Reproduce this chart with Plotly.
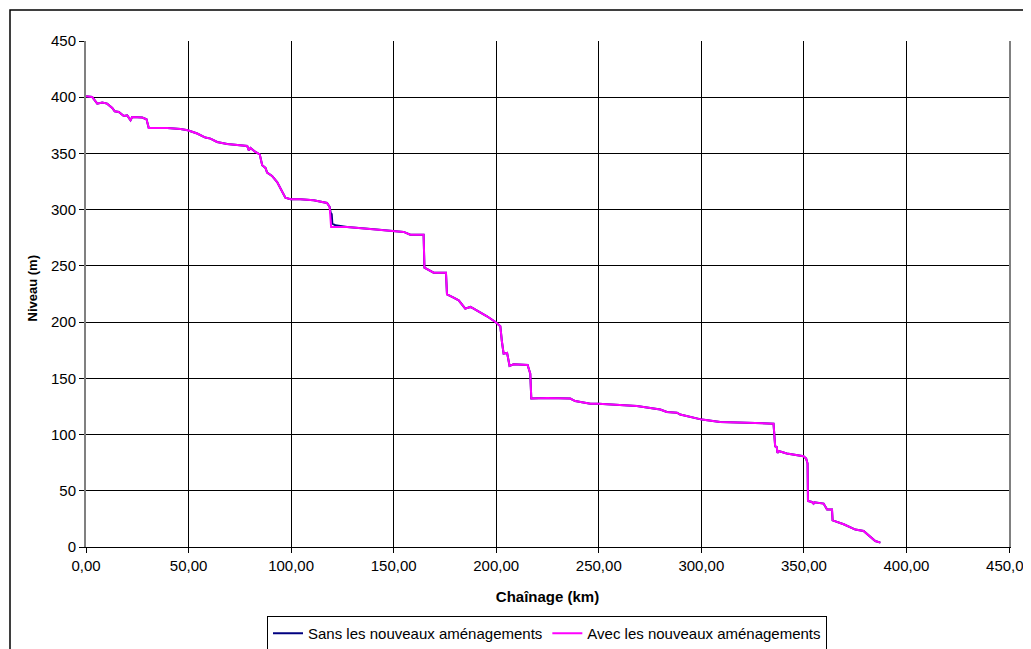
import plotly.graph_objects as go

# Chaînage (km) and Niveau (m) for "Avec les nouveaux aménagements"
avec_km = [0, 3.0, 5.5, 7.9, 10.3, 12.8, 14.0, 16.0, 18.4, 20.1, 21.7, 22.5, 27.4, 29.5, 30.6,
           39.6, 46.1, 49.6, 54.2, 58.2, 60.7, 63.9, 68.8, 78.6, 79.4, 80.2, 82.6, 84.7, 85.9,
           87.5, 88.3, 90.7, 93.2, 94.8, 96.4, 97.2, 99.7, 104.5, 111.0, 117.5, 118.8, 119.5,
           127.3, 140.3, 150.0, 154.9, 158.1, 164.6, 165.0, 167.0, 169.5, 175.5, 176.0, 179.2,
           181.7, 184.9, 187.4, 189.0, 195.5, 199.6, 202.0, 202.8, 203.6, 205.3, 206.5, 208.5,
           215.3, 216.6, 217.1, 224.8, 236.1, 238.5, 245.9, 249.9, 260.5, 268.6, 275.1, 280.0,
           283.2, 288.1, 289.7, 296.2, 300.3, 309.2, 323.8, 335.2, 336.0, 336.8, 337.1, 337.6,
           341.7, 349.8, 351.1, 351.8, 352.0, 353.9, 354.7, 355.1, 359.6, 361.3, 363.7, 364.0,
           369.4, 375.1, 379.1, 382.4, 384.8, 387.3]
avec_niv = [400.8, 400.2, 394.3, 395.2, 394.3, 390.4, 387.5, 386.9, 383.3, 383.9, 379.5, 382.4,
            381.9, 380.4, 372.6, 372.6, 371.8, 370.6, 367.7, 364.1, 363.2, 360.2, 358.4, 356.6,
            352.8, 354.9, 351.3, 349.2, 339.5, 337.1, 333.0, 330.0, 324.6, 318.7, 312.8, 310.7,
            309.2, 309.2, 308.3, 306.0, 302.4, 284.6, 284.6, 282.5, 281.0, 280.2, 277.8, 277.8,
            248.5, 246.7, 244.0, 244.0, 224.7, 221.8, 219.4, 212.0, 213.5, 212.0, 205.2, 200.1,
            196.3, 182.3, 172.0, 172.6, 161.0, 162.5, 161.9, 154.2, 132.0, 132.5, 132.0, 129.8,
            127.5, 127.5, 126.0, 125.4, 123.6, 122.2, 120.1, 119.5, 117.8, 114.7, 113.3, 111.2,
            110.3, 109.7, 89.6, 88.9, 83.6, 85.4, 83.1, 80.7, 78.6, 74.2, 40.9, 40.0, 38.6, 39.8,
            38.6, 33.3, 33.3, 23.7, 20.2, 15.5, 14.2, 9.5, 5.3, 3.9]

# "Sans les nouveaux aménagements": identical except around km 119-127
sans_km = avec_km[:41] + [119.3, 119.8, 120.1, 121.6, 127.3] + avec_km[43:]
sans_niv = avec_niv[:41] + [297.0, 296.0, 287.6, 286.1, 284.6] + avec_niv[43:]

x_ticks = [0, 50, 100, 150, 200, 250, 300, 350, 400, 450]
y_ticks = [0, 50, 100, 150, 200, 250, 300, 350, 400, 450]

FONT = "Liberation Sans, Arial, sans-serif"

fig = go.Figure()
fig.add_trace(go.Scatter(x=sans_km, y=sans_niv, mode="lines",
                         name="Sans les nouveaux aménagements",
                         line=dict(color="#000080", width=2)))
fig.add_trace(go.Scatter(x=avec_km, y=avec_niv, mode="lines",
                         name="Avec les nouveaux aménagements",
                         line=dict(color="#FF00FF", width=2)))

OFF = 8  # page body margin
W, H = 1031 - OFF, 649 - OFF
# desired plot area in page pixels
L, R, T, B = 86 - OFF, 1009 - OFF, 41 - OFF, 547 - OFF
pw, ph = R - L, B - T

def px(xpage):
    return (xpage - OFF - L) / pw

def py(ypage):
    return (B - (ypage - OFF)) / ph

fig.update_layout(
    width=W, height=H,
    autosize=False,
    margin=dict(l=L, r=W - R, t=T, b=H - B, pad=0, autoexpand=False),
    paper_bgcolor="white", plot_bgcolor="white",
    separators=", ",
    font=dict(family=FONT, size=15, color="black"),
    showlegend=True,
    legend=dict(orientation="h", x=px(547), xanchor="center", y=py(633.5), yanchor="middle",
                bordercolor="black", borderwidth=1, bgcolor="white",
                font=dict(family=FONT, size=15, color="black"),
                itemwidth=30, tracegroupgap=0),
    shapes=[dict(type="rect", xref="paper", yref="paper",
                 x0=px(10), x1=px(1045), y0=py(665), y1=py(10),
                 line=dict(color="black", width=1.5), fillcolor="rgba(0,0,0,0)", layer="below")],
    annotations=[dict(text="<b>Niveau (m)</b>", xref="paper", yref="paper",
                      x=px(32), y=py(288.5), xanchor="center", yanchor="middle",
                      textangle=-90, showarrow=False,
                      font=dict(family=FONT, size=13, color="black"))],
)

fig.update_xaxes(range=[0, 450], tickvals=x_ticks, tickformat=".2f", automargin=False,
                 ticklabeloverflow="allow",
                 showgrid=True, gridcolor="black", gridwidth=1,
                 showline=True, linecolor="black", linewidth=1,
                 ticks="outside", ticklen=5, tickcolor="black", zeroline=False,
                 tickfont=dict(size=15),
                 title=dict(text="<b>Chaînage (km)</b>", font=dict(size=15), standoff=18))
fig.update_yaxes(range=[0, 450], tickvals=y_ticks, automargin=False,
                 ticklabeloverflow="allow",
                 showgrid=True, gridcolor="black", gridwidth=1,
                 showline=True, linecolor="#808080", linewidth=2, mirror=True,
                 ticks="outside", ticklen=5, tickcolor="black", zeroline=False,
                 tickfont=dict(size=15))

fig.write_html("out.html")
